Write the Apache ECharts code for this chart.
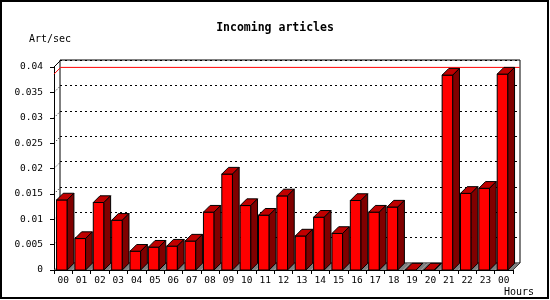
<!DOCTYPE html>
<html>
<head>
<meta charset="utf-8">
<script src="https://cdn.jsdelivr.net/npm/echarts@6/dist/echarts.min.js"></script>
<style>html,body{margin:0;padding:0;background:#fff}#c{width:550px;height:300px}</style>
</head>
<body>
<div id="c"></div>
<script>
var hours = ['00','01','02','03','04','05','06','07','08','09','10','11','12','13','14','15','16','17','18','19','20','21','22','23','00'];
var artPerSec = [0.0138,0.0062,0.0133,0.0098,0.0037,0.0045,0.0047,0.0057,0.0114,0.0189,0.0127,0.0108,0.0146,0.0067,0.0104,0.0072,0.0137,0.0114,0.0124,0,0,0.0384,0.0151,0.0161,0.0386];
var yTicks = [0.005,0.01,0.015,0.02,0.025,0.03,0.035];
var yMax = 0.04;
var titleText = 'Incoming articles';
var yName = 'Art/sec';
var xName = 'Hours';

var D = 6.7;
var mono = 'DejaVu Sans Mono';
var maxVal = Math.max.apply(null, artPerSec);

function barItem(params, api) {
  var i = api.value(0), v = api.value(1);
  var top = api.coord([i, v]);
  var base = api.coord([i, 0]);
  var band = api.size([1, 0])[0];
  var bs = base[0] - band / 2;
  var yb = base[1], yt = top[1];
  var x0 = bs + band * 0.14;
  var w = band * 0.58;
  return {
    type: 'group',
    children: [
      {type: 'polygon', shape: {points: [[bs, yb], [bs + band, yb], [bs + band + D, yb - D], [bs + D, yb - D]]},
        style: {fill: '#808080'}},
      {type: 'rect', shape: {x: x0, y: yt, width: w, height: yb - yt},
        style: {fill: '#ff0000', stroke: '#000', lineWidth: 1}},
      {type: 'polygon', shape: {points: [[x0, yt], [x0 + w, yt], [x0 + w + D, yt - D], [x0 + D, yt - D]]},
        style: {fill: '#c00000', stroke: '#000', lineWidth: 1}},
      {type: 'polygon', shape: {points: [[x0 + w, yt], [x0 + w + D, yt - D], [x0 + w + D, yb - D], [x0 + w, yb]]},
        style: {fill: '#800000', stroke: '#000', lineWidth: 1}}
    ]
  };
}

function sideItem(params, api) {
  var v = api.value(0);
  var p = api.coord([0, v]);
  var cs = params.coordSys;
  return {
    type: 'line',
    shape: {x1: cs.x, y1: p[1], x2: cs.x + D, y2: p[1] - D},
    style: {stroke: '#000', lineWidth: 1, lineDash: [1, 2]}
  };
}

function frameItem(params, api) {
  var cs = params.coordSys;
  var pTop = api.coord([0, yMax]);
  var pMax = api.coord([0, maxVal]);
  var p0 = api.coord([0, 0]);
  return {
    type: 'group',
    children: [
      {type: 'line', shape: {x1: cs.x, y1: pTop[1], x2: cs.x + D, y2: pTop[1] - D}, style: {stroke: '#000', lineWidth: 1}},
      {type: 'polyline', shape: {points: [[cs.x, pMax[1]], [cs.x + D, pMax[1] - D], [cs.x + cs.width + D, pMax[1] - D]]}, style: {stroke: '#ff0000', lineWidth: 1, fill: null}},
      {type: 'line', shape: {x1: cs.x + cs.width, y1: p0[1], x2: cs.x + cs.width + D, y2: p0[1] - D}, style: {stroke: '#000', lineWidth: 1}}
    ]
  };
}

var chart = echarts.init(document.getElementById('c'), null, {renderer: 'canvas'});
chart.setOption({
  animation: false,
  backgroundColor: '#fff',
  title: [
    {text: titleText, left: 'center', top: 22, padding: 0, textStyle: {fontFamily: mono, fontSize: 11.5, fontWeight: 'bold', color: '#000'}},
    {text: yName, left: 29, top: 34, padding: 0, textStyle: {fontFamily: mono, fontSize: 10, fontWeight: 'normal', color: '#000'}},
    {text: xName, left: 504, top: 287, padding: 0, textStyle: {fontFamily: mono, fontSize: 10, fontWeight: 'normal', color: '#000'}}
  ],
  graphic: [
    {type: 'rect', shape: {x: 1, y: 1, width: 547, height: 297}, style: {fill: null, stroke: '#000', lineWidth: 2}, z: 100}
  ],
  grid: [
    {left: 54, right: 37, top: 67, bottom: 30, show: false},
    {left: 60, right: 30, top: 60, bottom: 37, show: true, borderColor: '#000', borderWidth: 1, backgroundColor: '#fff', z: -1}
  ],
  xAxis: [
    {type: 'category', gridIndex: 0, data: hours,
      axisLine: {lineStyle: {color: '#000', width: 1}},
      axisTick: {show: true, length: 4, lineStyle: {color: '#000'}, alignWithLabel: false},
      axisLabel: {fontFamily: mono, fontSize: 9.5, color: '#000', margin: 6, interval: 0}},
    {type: 'category', gridIndex: 1, data: hours, show: false}
  ],
  yAxis: [
    {type: 'value', gridIndex: 0, min: 0, max: yMax, interval: 0.005,
      axisLine: {show: true, lineStyle: {color: '#000', width: 1}},
      axisTick: {show: true, length: 4, lineStyle: {color: '#000'}},
      axisLabel: {fontFamily: mono, fontSize: 9.5, color: '#000', margin: 11},
      splitLine: {show: false}},
    {type: 'value', gridIndex: 1, min: 0, max: yMax, interval: 0.005,
      axisLine: {show: false}, axisTick: {show: false}, axisLabel: {show: false},
      splitLine: {show: true, lineStyle: {color: '#000', type: [2, 3], width: 1}}}
  ],
  series: [
    {type: 'custom', xAxisIndex: 0, yAxisIndex: 0, renderItem: sideItem, data: yTicks.map(function (t) { return [t]; }), encode: {y: 0}, z: 1, silent: true},
    {type: 'custom', xAxisIndex: 0, yAxisIndex: 0, renderItem: frameItem, data: [[0]], z: 1, silent: true},
    {type: 'custom', xAxisIndex: 0, yAxisIndex: 0, renderItem: barItem,
      data: artPerSec.map(function (v, i) { return [i, v]; }), encode: {x: 0, y: 1}, z: 3, silent: true}
  ]
});
</script>
</body>
</html>
